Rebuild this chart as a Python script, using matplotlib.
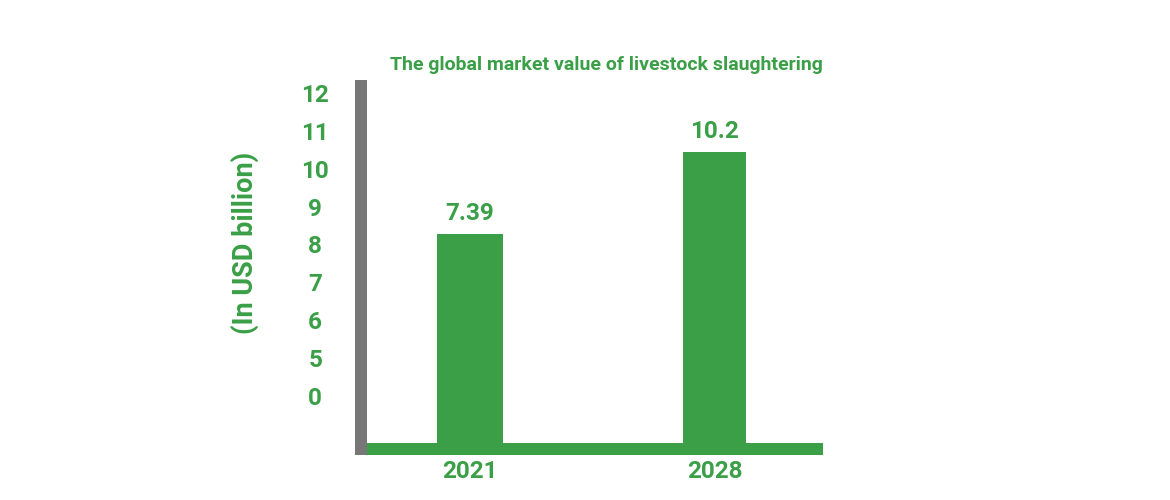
import matplotlib
matplotlib.use("Agg")
import matplotlib.pyplot as plt
import numpy as np

years = ["2021", "2028"]
values = [7.39, 10.2]
value_labels = ["7.39", "10.2"]
tick_labels = ["12", "11", "10", "9", "8", "7", "6", "5", "0"]
title = "The global market value of livestock slaughtering"
ylabel = "(In USD billion)"

GREEN = "#3a9f47"
GRAY = "#777777"
plt.rcParams['font.family'] = ['Roboto', 'DejaVu Sans']

W, H = 1170, 500
fig = plt.figure(figsize=(W / 100, H / 100), dpi=100)
ax_left, ax_right, ax_bottom, ax_top = 361, 823, 449, 86
ax = fig.add_axes([ax_left / W, 1 - ax_bottom / H, (ax_right - ax_left) / W, (ax_bottom - ax_top) / H])

x = np.array([0.235, 0.765])
ax.bar(x, values, width=[0.143, 0.135], color=GREEN, zorder=1)
ax.set_xlim(0, 1)
ax.set_ylim(0, 12.45)

for xi, v, lab in zip(x, values, value_labels):
    ax.annotate(lab, (xi, v), xytext=(0, 6), textcoords="offset points",
                ha="center", va="bottom", color=GREEN, fontsize=17.5, fontweight="bold")

ax.set_xticks(x)
ax.set_xticklabels(years, color=GREEN, fontsize=17.5, fontweight="bold")
ax.tick_params(axis="x", length=0, pad=8)

ypos = np.linspace(12.21, 1.82, len(tick_labels))
ax.set_yticks(ypos)
ax.set_yticklabels(tick_labels, color=GREEN, fontsize=17.5, fontweight="bold", ha="center")
ax.tick_params(axis="y", length=0, pad=33)

for s in ["top", "right"]:
    ax.spines[s].set_visible(False)
lw = 12 * 72 / 100
ax.spines["left"].set_color(GRAY)
ax.spines["left"].set_linewidth(lw)
ax.spines["left"].set_capstyle("projecting")
ax.spines["left"].set_zorder(3)
ax.spines["bottom"].set_color(GREEN)
ax.spines["bottom"].set_linewidth(lw)
ax.spines["bottom"].set_capstyle("butt")
ax.spines["bottom"].set_zorder(2)

fig.text(823 / W, 1 - 65 / H, title, ha="right", va="center", color=GREEN,
         fontsize=14, fontweight="bold")
fig.text(245 / W, 1 - 243 / H, ylabel, ha="center", va="center", rotation=90,
         color=GREEN, fontsize=19.5, fontweight="bold")

fig.savefig("out.png", dpi=100)
